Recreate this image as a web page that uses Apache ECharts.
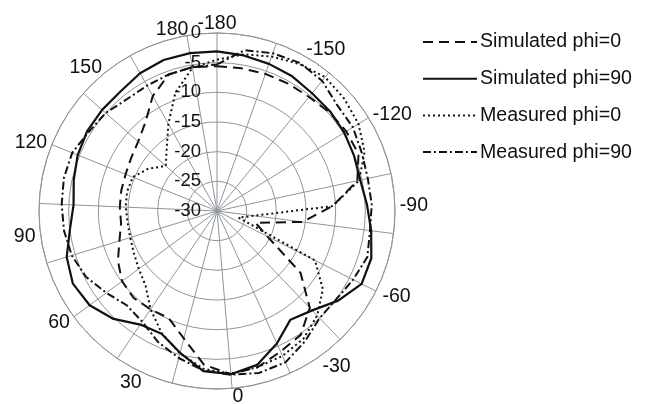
<!DOCTYPE html>
<html><head><meta charset="utf-8">
<script src="https://cdn.jsdelivr.net/npm/echarts@6/dist/echarts.min.js"></script>
<style>html,body{margin:0;padding:0;background:#fff}#c{width:649px;height:404px}</style>
</head><body><div id="c"></div>
<script>
// Angle categories (degrees), 10 degree steps as in the source radar chart
const angles = [-180,-170,-160,-150,-140,-130,-120,-110,-100,-90,-80,-70,-60,-50,-40,-30,-20,-10,0,10,20,30,40,50,60,70,80,90,100,110,120,130,140,150,160,170,180];
// Gain values (dB)
const simPhi0   = [-5.6,-5.6,-5.5,-5.4,-5.3,-4.8,-4.4,-4.3,-5.8,-10.5,-15.5,-23.2,-20.5,-12.5,-7.4,-4.8,-4.0,-2.8,-2.4,-4.0,-7.8,-10.2,-10.0,-9.7,-10.1,-11.3,-12.8,-13.7,-13.6,-13.5,-13.4,-13.0,-12.3,-10.8,-7.8,-5.6,-5.4];
const simPhi90  = [-3.1,-3.4,-3.7,-4.0,-4.5,-4.6,-4.8,-5.1,-5.3,-4.7,-3.8,-2.8,-2.7,-4.6,-6.8,-7.9,-5.5,-3.2,-2.4,-2.9,-5.3,-7.3,-6.9,-4.8,-3.3,-2.8,-3.5,-5.0,-5.8,-5.3,-4.7,-4.3,-4.2,-4.1,-3.4,-3.0,-3.0];
const measPhi0  = [-4.5,-3.2,-2.4,-1.6,-1.0,-1.4,-2.0,-3.2,-5.5,-10.5,-23.7,-26.2,-11.5,-7.8,-5.6,-4.0,-3.2,-2.8,-2.5,-3.3,-5.2,-7.4,-10.0,-12.6,-13.6,-14.3,-14.7,-14.8,-14.6,-14.5,-14.7,-16.4,-18.5,-16.5,-13.2,-8.9,-5.5];
const measPhi90 = [-5.3,-2.5,-1.8,-1.4,-1.8,-3.0,-3.1,-3.7,-4.0,-3.9,-4.0,-3.5,-4.3,-5.0,-5.0,-3.5,-2.0,-1.8,-2.3,-3.0,-4.4,-5.8,-7.5,-8.0,-6.8,-5.3,-4.4,-4.0,-3.8,-3.6,-3.7,-4.6,-5.0,-5.8,-5.8,-5.6,-5.4];
const angleTickLabels = [-180,-150,-120,-90,-60,-30,0,30,60,90,120,150,180];
const radiusTickLabels = [-30,-25,-20,-15,-10,-5,0];
const seriesNames = ['Simulated phi=0','Simulated phi=90','Measured phi=0','Measured phi=90'];

const GRID = '#8f959b';
const FONT = 'Liberation Sans, Arial, sans-serif';
const LABEL_SIZE = 19.5;
const angleMax = 190; // the radar's 37 categories span 370 units over the full circle

// per-label text placement tweaks (line height / padding) so labels sit where the original puts them
const labelTweak = {
  '-180': {lineHeight: 8},
  '180': {lineHeight: 3, padding: [0, 28, 0, 0]},
  '150': {lineHeight: 1},
  '120': {lineHeight: 1},
  '90': {padding: [5, 0, 0, 0]},
  '60': {lineHeight: 6.4},
  '30': {lineHeight: 10.4},
  '0': {lineHeight: 7.4, padding: [0, 0, 0, 11]},
  '-30': {lineHeight: 8.6, padding: [0, 0, 0, 3]},
  '-60': {lineHeight: 7, padding: [0, 0, 0, 2]},
  '-90': {padding: [4, 0, 0, 0]},
  '-120': {lineHeight: 1},
  '-150': {lineHeight: 2.6}
};
const richStyles = {};
angleTickLabels.forEach((v, i) => {
  richStyles['a' + i] = Object.assign({fontSize: LABEL_SIZE, color: '#111', fontFamily: FONT}, labelTweak[String(v)] || {});
});

function closedLoop(vals) {
  const d = angles.map((a, i) => [vals[i], a]);
  d.push([vals[0], angles[0] + 370]); // close the polygon back to the first category
  return d;
}

function angleLabel(v) {
  const i = angleTickLabels.indexOf(v);
  if (i < 0) return '';
  return '{a' + i + '|' + v + '}';
}

const chart = echarts.init(document.getElementById('c'), null, {renderer: 'canvas'});
chart.setOption({
  animation: false,
  backgroundColor: '#fff',
  textStyle: {fontFamily: FONT},
  legend: {
    orient: 'vertical', left: 422, top: 32, padding: 0,
    itemWidth: 54, itemHeight: 18, itemGap: 16.7,
    itemStyle: {color: 'rgba(0,0,0,0)', borderWidth: 0, opacity: 0},
    textStyle: {fontSize: 19.6, color: '#111', fontFamily: FONT, padding: [0, 0, 0, -2]},
    data: seriesNames
  },
  polar: [
    {center: [217, 211], radius: 178},
    {center: [217, 211], radius: 178}
  ],
  angleAxis: [
    {polarIndex: 0, type: 'value', min: -180, max: angleMax, interval: 20, startAngle: 90, clockwise: true,
     axisLine: {lineStyle: {color: GRID, width: 1}}, axisTick: {show: false}, axisLabel: {show: false},
     splitLine: {lineStyle: {color: GRID, width: 1}}},
    {polarIndex: 1, type: 'value', min: -180, max: angleMax, interval: 30, startAngle: 90, clockwise: true,
     axisLine: {show: false}, axisTick: {show: false}, splitLine: {show: false},
     axisLabel: {color: '#111', fontSize: LABEL_SIZE, margin: 5, fontFamily: FONT,
       formatter: angleLabel, rich: richStyles}}
  ],
  radiusAxis: [
    {polarIndex: 0, type: 'value', min: radiusTickLabels[0], max: radiusTickLabels[radiusTickLabels.length - 1], interval: 5,
     axisLine: {show: false}, axisTick: {show: false},
     splitLine: {lineStyle: {color: GRID, width: 1}},
     axisLabel: {color: '#111', fontSize: 18.5, margin: 16, fontFamily: FONT,
       formatter: v => radiusTickLabels.includes(v) ? String(v) : ''}},
    {polarIndex: 1, type: 'value', min: -30, max: 0, show: false}
  ],
  series: [
    {name: seriesNames[0], type: 'line', coordinateSystem: 'polar', polarIndex: 0, symbol: 'none',
     data: closedLoop(simPhi0), lineStyle: {color: '#111', width: 2, type: [10, 6]}, itemStyle: {color: '#111'}},
    {name: seriesNames[1], type: 'line', coordinateSystem: 'polar', polarIndex: 0, symbol: 'none',
     data: closedLoop(simPhi90), lineStyle: {color: '#111', width: 2.2, type: 'solid'}, itemStyle: {color: '#111'}},
    {name: seriesNames[2], type: 'line', coordinateSystem: 'polar', polarIndex: 0, symbol: 'none',
     data: closedLoop(measPhi0), lineStyle: {color: '#111', width: 2, type: [2, 3]}, itemStyle: {color: '#111'}},
    {name: seriesNames[3], type: 'line', coordinateSystem: 'polar', polarIndex: 0, symbol: 'none',
     data: closedLoop(measPhi90), lineStyle: {color: '#111', width: 2, type: [8, 3, 2, 3]}, itemStyle: {color: '#111'}}
  ]
});
</script>
</body></html>
